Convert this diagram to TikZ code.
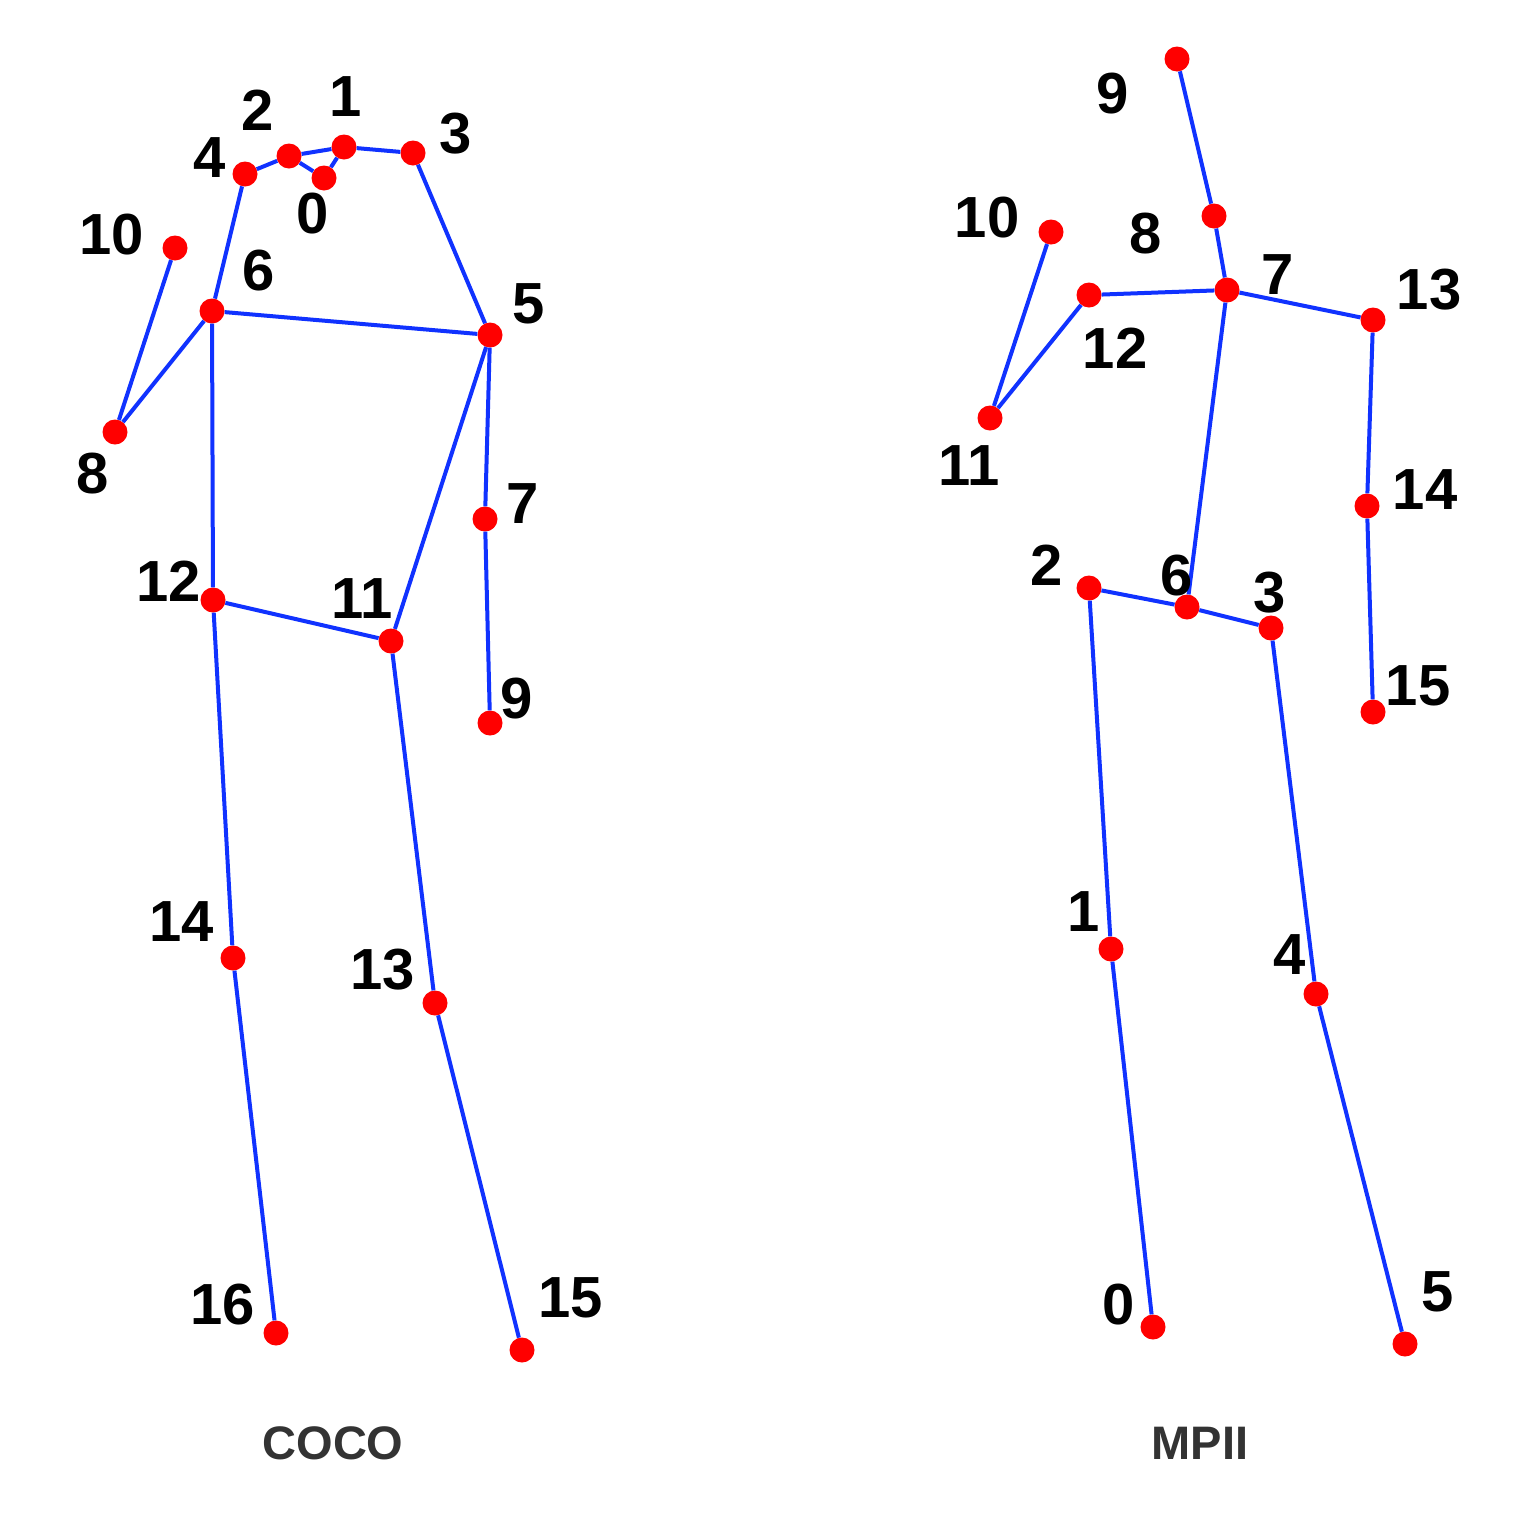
\documentclass[tikz,border=0pt]{standalone}
\usepackage{fontspec}
\setmainfont{Liberation Sans}
\definecolor{bonecol}{RGB}{16,50,255}
\definecolor{titlecol}{RGB}{51,51,51}
\tikzset{
  joint/.style={circle, fill=red, draw=none, inner sep=0pt, minimum size=25pt},
  bone/.style={draw=bonecol, line width=4pt},
  lbl/.style={inner sep=0pt, font=\fontsize{58}{60}\selectfont\bfseries, text=black},
  ttl/.style={inner sep=0pt, font=\fontsize{47}{50}\selectfont\bfseries, text=titlecol}
}
\begin{document}
\begin{tikzpicture}[x=1pt,y=-1pt]
\useasboundingbox (0,0) rectangle (1540,1540);
\fill[white] (0,0) rectangle (1540,1540);
% ---------- COCO joints ----------
\node[joint] (c0) at (324,178) {};
\node[joint] (c1) at (344,147) {};
\node[joint] (c2) at (289,156) {};
\node[joint] (c3) at (413,153) {};
\node[joint] (c4) at (245,174) {};
\node[joint] (c5) at (490,335) {};
\node[joint] (c6) at (212,311) {};
\node[joint] (c7) at (485,519) {};
\node[joint] (c8) at (115,432) {};
\node[joint] (c9) at (490,723) {};
\node[joint] (c10) at (175,248) {};
\node[joint] (c11) at (391,641) {};
\node[joint] (c12) at (213,600) {};
\node[joint] (c13) at (435,1003) {};
\node[joint] (c14) at (233,958) {};
\node[joint] (c15) at (522,1350) {};
\node[joint] (c16) at (276,1333) {};
% COCO bones
\foreach \a/\b in {c0/c1,c0/c2,c2/c1,c1/c3,c2/c4,c4/c6,c3/c5,c6/c5,c6/c8,c8/c10,c5/c7,c7/c9,c6/c12,c5/c11,c12/c11,c12/c14,c14/c16,c11/c13,c13/c15}
  \draw[bone] (\a) -- (\b);
% COCO labels
\node[lbl] (lc0) at (313,214) {0};
\node[lbl] (lc1) at (346,97) {1};
\node[lbl] (lc2) at (258,110) {2};
\node[lbl] (lc3) at (456,134) {3};
\node[lbl] (lc4) at (210,158) {4};
\node[lbl] (lc5) at (529,304) {5};
\node[lbl] (lc6) at (259,271) {6};
\node[lbl] (lc7) at (523,504) {7};
\node[lbl] (lc8) at (93,474) {8};
\node[lbl] (lc9) at (517,699) {9};
\node[lbl] (lc10) at (112,235) {10};
\node[lbl] (lc11) at (362,599) {11};
\node[lbl] (lc12) at (169,581) {12};
\node[lbl] (lc13) at (383,970) {13};
\node[lbl] (lc14) at (182,922) {14};
\node[lbl] (lc15) at (571,1298) {15};
\node[lbl] (lc16) at (223,1305) {16};
% ---------- MPII joints ----------
\node[joint] (m0) at (1153,1327) {};
\node[joint] (m1) at (1111,949) {};
\node[joint] (m2) at (1089,588) {};
\node[joint] (m3) at (1271,628) {};
\node[joint] (m4) at (1316,994) {};
\node[joint] (m5) at (1405,1344) {};
\node[joint] (m6) at (1187,607) {};
\node[joint] (m7) at (1227,290) {};
\node[joint] (m8) at (1214,216) {};
\node[joint] (m9) at (1177,59) {};
\node[joint] (m10) at (1051,232) {};
\node[joint] (m11) at (990,418) {};
\node[joint] (m12) at (1089,295) {};
\node[joint] (m13) at (1373,320) {};
\node[joint] (m14) at (1367,506) {};
\node[joint] (m15) at (1373,712) {};
% MPII bones
\foreach \a/\b in {m0/m1,m1/m2,m2/m6,m6/m3,m3/m4,m4/m5,m6/m7,m7/m8,m8/m9,m7/m12,m12/m11,m11/m10,m7/m13,m13/m14,m14/m15}
  \draw[bone] (\a) -- (\b);
% MPII labels
\node[lbl] (lm0) at (1119,1305) {0};
\node[lbl] (lm1) at (1084,912) {1};
\node[lbl] (lm2) at (1047,565) {2};
\node[lbl] (lm3) at (1270,593) {3};
\node[lbl] (lm4) at (1290,955) {4};
\node[lbl] (lm5) at (1438,1292) {5};
\node[lbl] (lm6) at (1177,576) {6};
\node[lbl] (lm7) at (1278,275) {7};
\node[lbl] (lm8) at (1146,234) {8};
\node[lbl] (lm9) at (1113,94) {9};
\node[lbl] (lm10) at (987,218) {10};
\node[lbl] (lm11) at (969,466) {11};
\node[lbl] (lm12) at (1115,348) {12};
\node[lbl] (lm13) at (1429,290) {13};
\node[lbl] (lm14) at (1425,490) {14};
\node[lbl] (lm15) at (1418,686) {15};
% titles
\node[ttl] (tcoco) at (333,1443) {COCO};
\node[ttl] (tmpii) at (1200,1443) {MPII};
\end{tikzpicture}
\end{document}
